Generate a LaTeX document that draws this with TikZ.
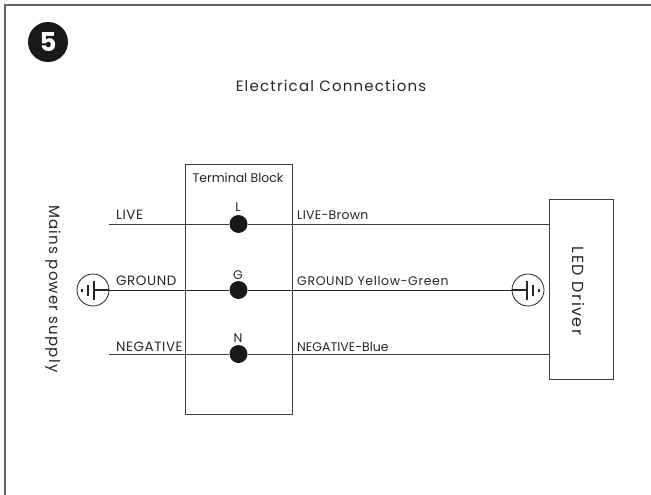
\documentclass[tikz,border=0pt]{standalone}
\usepackage{fontspec}
\setmainfont{Poppins}
\newfontfamily\spA[LetterSpace=2]{Poppins}
\newfontfamily\spB[LetterSpace=4]{Poppins}
\newfontfamily\spC[LetterSpace=5]{Poppins}
\newfontfamily\spD[LetterSpace=8]{Poppins}
\newfontfamily\spE[LetterSpace=9]{Poppins}
\tikzset{
  wire/.style={draw=black!75,line width=1pt},
  thin wire/.style={draw=black!85,line width=0.8pt},
  box/.style={draw=black!75,line width=1pt,fill=none},
  dot/.style={circle,fill=black!90,minimum size=18pt,inner sep=0pt},
  lab/.style={font=\fontsize{12.5}{14}\selectfont,text=black!85,inner sep=0pt},
  caplab/.style={lab,font=\spB\fontsize{13.5}{15}\selectfont},
  big/.style={lab,font=\spD\fontsize{15}{17}\selectfont},
  gnd/.style={circle,draw=black!85,line width=0.8pt,minimum size=32pt,inner sep=0pt},
  sym/.style={draw=black!85,line width=1.1pt}
}
\begin{document}
\begin{tikzpicture}[x=1pt,y=-1pt]
\useasboundingbox (0,0) rectangle (651,495);
\draw[draw=black!60,line width=2pt] (5,495) -- (5,5) -- (651,5);
\node[circle,fill=black!90,minimum size=40pt,inner sep=0pt,text=white,font=\fontsize{26}{28}\bfseries\selectfont] (badge) at (48,42) {5};
\node[big] (title) at (331,86) {Electrical Connections};
\node[box,minimum width=107pt,minimum height=250pt,inner sep=0pt] (tb) at (238.5,289) {};
\node[lab,anchor=base] (tbl) at (238,182) {Terminal Block};
\node[box,minimum width=64pt,minimum height=180pt,inner sep=0pt] (led) at (581,289) {};
\node[big,font=\spE\fontsize{16}{18}\selectfont,rotate=-90] (ledl) at (579,291) {LED Driver};
\node[big,rotate=-90] (mains) at (53,289) {Mains power supply};
\coordinate (liveS) at (109,224);
\coordinate (negS) at (109,354);
\node[dot] (L) at (238.5,224) {};
\node[dot] (G) at (238.5,290) {};
\node[dot] (N) at (238.5,354) {};
\node[gnd] (g1) at (93,290) {};
\node[gnd] (g2) at (528,290) {};
\coordinate (liveE) at (liveS -| led.west);
\coordinate (negE) at (negS -| led.west);
\draw[wire] (liveS) -- (L) -- (liveE);
\draw[wire] (negS) -- (N) -- (negE);
\draw[thin wire] (g1) -- (G) -- (g2);
% earth symbols
\draw[sym] (g1.east) -- (94,290);
\draw[sym] (94,281) -- (94,300);
\draw[sym] (88,285) -- (88,296);
\draw[sym] (82,288.5) -- (82,291.5);
\draw[sym] (g2.west) -- (527,290);
\draw[sym] (527,281) -- (527,300);
\draw[sym] (533,285) -- (533,296);
\draw[sym] (539,288.5) -- (539,291.5);
\node[lab,anchor=base] (tl) at (238,211) {L};
\node[lab,anchor=base] (tg) at (238,279) {G};
\node[lab,anchor=base] (tn) at (238,342) {N};
\node[caplab,anchor=base west] (a1) at (116,219) {LIVE};
\node[caplab,anchor=base west] (a2) at (116,285) {GROUND};
\node[caplab,anchor=base west] (a3) at (116,351) {NEGATIVE};
\node[lab,font=\spA\fontsize{12.5}{14}\selectfont,anchor=base west] (b1) at (297,219) {LIVE-Brown};
\node[lab,font=\spC\fontsize{12.5}{14}\selectfont,anchor=base west] (b2) at (297,285) {GROUND Yellow-Green};
\node[lab,anchor=base west] (b3) at (297,351) {NEGATIVE-Blue};
\end{tikzpicture}
\end{document}
